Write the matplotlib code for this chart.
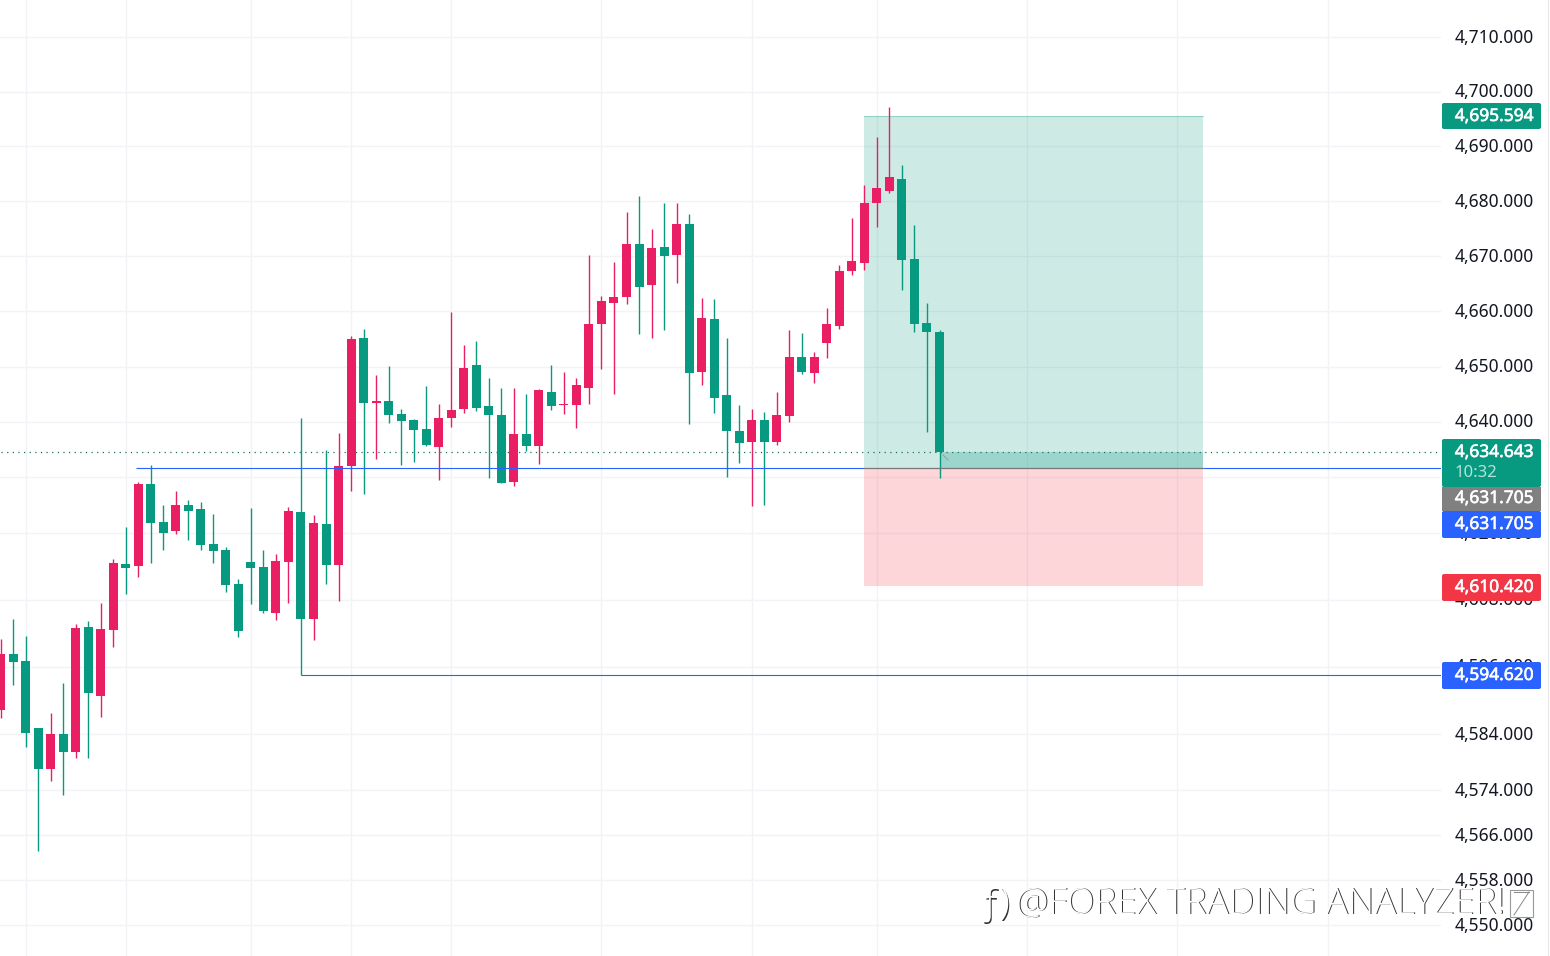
import matplotlib
matplotlib.use("Agg")
import matplotlib.pyplot as plt
import matplotlib.patheffects as pe
from matplotlib.patches import FancyBboxPatch, Rectangle
from matplotlib.transforms import ScaledTranslation

plt.rcParams['font.family'] = ['Noto Sans', 'DejaVu Sans']

opens = [4588.3, 4598.3, 4597.0, 4585.1, 4577.8, 4584.0, 4580.8, 4603.1, 4590.8, 4602.6,
         4614.4, 4614.1, 4628.8, 4622.0, 4620.3, 4625.0, 4624.3, 4618.0, 4616.9, 4610.8,
         4614.8, 4613.9, 4605.6, 4614.8, 4623.8, 4604.5, 4621.6, 4614.2, 4632.0, 4655.2,
         4643.5, 4643.8, 4641.4, 4640.3, 4638.7, 4635.5, 4640.7, 4642.3, 4650.3, 4642.9,
         4641.2, 4629.2, 4637.8, 4635.6, 4645.5, 4643.0, 4643.0, 4646.2, 4657.7, 4661.5,
         4662.6, 4672.2, 4664.8, 4671.7, 4670.2, 4675.9, 4649.0, 4658.6, 4644.8, 4638.3,
         4636.4, 4640.3, 4636.4, 4641.0, 4651.7, 4648.8, 4654.3, 4657.3, 4667.3, 4668.8,
         4679.7, 4681.9, 4684.1, 4669.5, 4657.9, 4656.3]
highs = [4601.0, 4604.6, 4601.5, 4585.1, 4587.7, 4593.2, 4603.7, 4604.2, 4607.4, 4615.3,
         4621.1, 4629.1, 4632.2, 4625.0, 4627.5, 4625.9, 4625.5, 4623.5, 4617.5, 4611.8,
         4624.5, 4616.9, 4616.2, 4624.6, 4640.8, 4623.2, 4634.9, 4638.0, 4655.5, 4656.8,
         4648.5, 4650.2, 4642.4, 4640.6, 4646.5, 4643.2, 4659.9, 4653.9, 4654.6, 4647.9,
         4646.1, 4646.1, 4645.0, 4646.0, 4650.3, 4649.1, 4648.0, 4670.2, 4662.8, 4668.9,
         4678.0, 4680.9, 4674.9, 4679.7, 4679.7, 4677.7, 4662.4, 4662.2, 4655.2, 4643.0,
         4642.3, 4641.8, 4645.4, 4656.6, 4656.1, 4652.6, 4660.6, 4668.4, 4676.9, 4682.9,
         4691.7, 4697.2, 4686.6, 4675.7, 4661.5, 4656.6]
lows = [4586.9, 4592.7, 4581.7, 4563.2, 4575.6, 4573.2, 4579.7, 4579.7, 4587.0, 4599.6,
        4609.0, 4612.1, 4614.6, 4616.9, 4619.8, 4618.7, 4617.0, 4614.7, 4609.4, 4601.3,
        4607.2, 4605.6, 4604.4, 4607.4, 4594.6, 4600.8, 4610.8, 4607.8, 4627.5, 4627.0,
        4633.4, 4639.9, 4632.3, 4632.8, 4635.6, 4629.6, 4639.1, 4641.6, 4642.0, 4629.9,
        4629.0, 4628.5, 4634.7, 4632.5, 4642.1, 4641.4, 4638.9, 4643.2, 4649.5, 4645.0,
        4661.3, 4655.9, 4655.2, 4656.6, 4665.1, 4639.6, 4646.6, 4641.6, 4630.1, 4632.6,
        4624.8, 4625.0, 4635.8, 4640.0, 4648.6, 4647.0, 4651.5, 4656.9, 4666.6, 4667.5,
        4675.3, 4681.5, 4663.9, 4656.3, 4638.2, 4629.9]
closes = [4598.3, 4596.9, 4584.2, 4577.8, 4584.0, 4580.8, 4603.0, 4591.3, 4602.8, 4614.6,
          4613.7, 4628.8, 4621.8, 4620.0, 4625.0, 4623.9, 4617.8, 4616.7, 4610.6, 4602.4,
          4613.7, 4606.0, 4615.0, 4623.9, 4604.6, 4621.8, 4614.2, 4632.0, 4655.0, 4643.5,
          4643.8, 4641.3, 4640.1, 4638.6, 4635.8, 4640.7, 4642.1, 4649.7, 4642.5, 4641.3,
          4629.0, 4637.8, 4635.6, 4645.7, 4642.9, 4643.2, 4646.6, 4657.7, 4661.9, 4662.6,
          4672.2, 4664.4, 4671.5, 4670.0, 4675.9, 4648.8, 4658.8, 4644.3, 4638.3, 4636.2,
          4640.3, 4636.4, 4641.2, 4651.7, 4649.0, 4651.7, 4657.7, 4667.3, 4669.1, 4679.7,
          4682.4, 4684.4, 4669.3, 4657.7, 4656.3, 4634.643]

tick_prices = [4710, 4700, 4690, 4680, 4670, 4660, 4650, 4640, 4630, 4620, 4608, 4596,
               4584, 4574, 4566, 4558, 4550]
tick_labels = [f"{p:,.3f}" for p in tick_prices]
grid_bars = [2, 10, 20, 28, 36, 48, 60, 70, 82, 94, 106]

target_price = 4695.594
entry_price = 4631.705
stop_price = 4610.420
last_price = 4634.643
low_line_price = 4594.620
box_labels = ["4,695.594", "4,634.643", "4,631.705", "4,631.705", "4,610.420", "4,594.620"]
countdown = "10:32"

GREEN = '#089981'
RED = '#e91e63'
BLUE = '#2962ff'

fig = plt.figure(figsize=(15.5, 9.56), dpi=100, facecolor='white')
ax = fig.add_axes([0, 0, 1441 / 1550, 1])
bar_px = 12.52
ax.set_xlim(-0.5 / bar_px, 1440.5 / bar_px)
ax.set_yscale('log')
ax.set_ylim(4544.6, 4716.8)
ax.set_yticks(tick_prices, tick_labels)
ax.minorticks_off()
ax.set_xticks(grid_bars, [''] * len(grid_bars))
ax.yaxis.tick_right()
ax.tick_params(length=0, pad=10, labelsize=12.5, labelcolor='#131722')
ax.grid(True, color='#f1f3f6', lw=1)
ax.set_axisbelow(True)
for s in ax.spines.values():
    s.set_visible(False)
# labels sit a little above their grid lines
up = ScaledTranslation(0, 1.5 / 100, fig.dpi_scale_trans)
for lbl in ax.get_yticklabels():
    lbl.set_transform(lbl.get_transform() + up)

# position tool
x0 = 68.97
x1 = 96.05
ax.add_patch(Rectangle((x0, entry_price), x1 - x0, target_price - entry_price, fc=GREEN, alpha=0.2, ec='none', zorder=1))
ax.add_patch(Rectangle((x0, stop_price), x1 - x0, entry_price - stop_price, fc='#f23645', alpha=0.2, ec='none', zorder=1))
ax.add_patch(Rectangle((75, entry_price), x1 - 75, last_price - entry_price, fc=GREEN, alpha=0.25, ec='none', zorder=1))
ax.plot([x0, x1], [target_price, target_price], color=GREEN, alpha=0.3, lw=0.8, zorder=1)

# candles
for i in range(len(opens)):
    c = RED if closes[i] >= opens[i] else GREEN
    ax.vlines(i, lows[i], highs[i], color=c, lw=1.0, zorder=3)
    ax.bar(i, abs(closes[i] - opens[i]), bottom=min(opens[i], closes[i]), width=0.72, color=c, zorder=3)

ax.plot([10.85, 116], [entry_price, entry_price], color=BLUE, lw=0.8, zorder=4, solid_capstyle='butt')
ax.plot([x0, x1], [entry_price, entry_price], color='#777777', lw=0.8, zorder=4)
ax.plot([24, 116], [low_line_price, low_line_price], color=BLUE, lw=0.8, zorder=4, solid_capstyle='butt')
ax.plot([0, 116], [last_price, last_price], color='#1f6f60', lw=0.9, ls=(0, (1, 3.5)), zorder=2)

# overlay in pixels for the price boxes and the watermark
ov = fig.add_axes([0, 0, 1, 1])
ov.set_xlim(0, 1550)
ov.set_ylim(956, 0)
ov.axis('off')
ov.patch.set_alpha(0)
ov.plot([1548, 1548], [0, 956], color='#e6e8ec', lw=0.8)
ov.plot([943, 948], [455, 460], color='#8fa8a2', lw=0.8)

box_tops = [103, 439, 487, 511, 574, 662]
box_bottoms = [129, 487, 511, 538, 601, 689]
box_colors = [GREEN, GREEN, '#808080', BLUE, '#f23645', BLUE]
for k in [0, 1, 3, 4, 5]:
    ov.add_patch(FancyBboxPatch((1443, box_tops[k] + 1), 97, box_bottoms[k] - box_tops[k] - 2,
                                boxstyle='round,pad=1,rounding_size=2', fc=box_colors[k], ec='none'))
ov.add_patch(Rectangle((1442, 487), 99, 24, fc=box_colors[2], ec='none'))

label_y = [116, 452, 498, 524, 587, 675]
for k in range(len(box_labels)):
    ov.text(1534, label_y[k], box_labels[k], color='white', fontsize=12.5, ha='right', va='center',
            path_effects=[pe.withStroke(linewidth=0.4, foreground='white')])
ov.text(1455, 473, countdown, color='#b5e3d9', fontsize=12, ha='left', va='center')

# embossed watermark
mark = [(1016, "@FOREX TRADING ANALYZER!", 26.3), (980, "ƒ)", 26.3)]
for mx, s, fs in mark:
    ov.text(mx + 1, 905, s, color='#333333', fontsize=fs, ha='left', va='center', family=['Open Sans', 'DejaVu Sans'], fontweight='light')
    ov.text(mx, 904, s, color='#ffffff', fontsize=fs, ha='left', va='center', family=['Open Sans', 'DejaVu Sans'], fontweight='light')
ov.add_patch(Rectangle((1510, 890), 23, 27, fc='none', ec='#999999', lw=0.8))
ov.plot([1514, 1529], [915, 892], color='#888888', lw=0.7)
ov.plot([1514, 1529], [892, 892], color='#888888', lw=0.7)

fig.savefig('out.png', dpi=100)
